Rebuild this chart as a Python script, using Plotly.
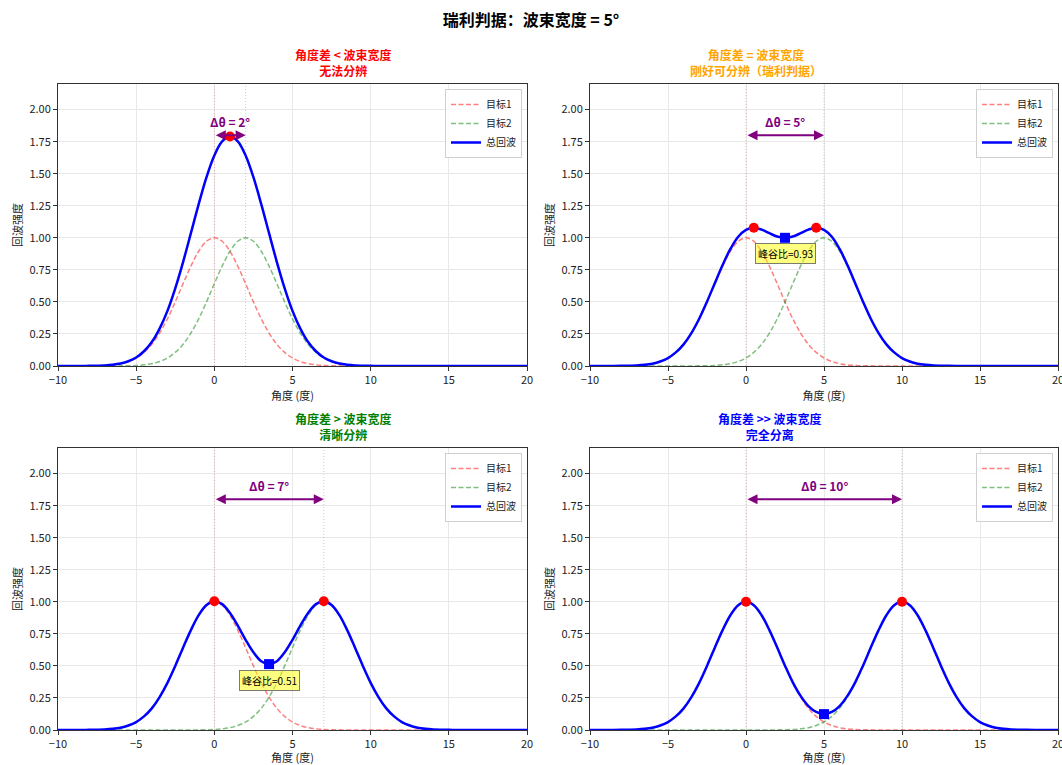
import numpy as np
import plotly.graph_objects as go
from plotly.subplots import make_subplots

# ---------------- data ----------------
ANGLE = np.arange(-10, 20.5, 0.5)  # sampling grid (degrees)

DELTAS = [2, 5, 7, 10]
TITLES = ["角度差 &lt; 波束宽度<br>无法分辨",
          "角度差 = 波束宽度<br>刚好可分辨（瑞利判据）",
          "角度差 &gt; 波束宽度<br>清晰分辨",
          "角度差 &gt;&gt; 波束宽度<br>完全分离"]
TITLE_COLORS = ["red", "orange", "green", "blue"]

TARGET1 = [0, 0, 0.0001, 0.0003, 0.001, 0.002, 0.004, 0.009, 0.018, 0.035, 0.062, 0.106, 0.169, 0.257,
           0.368, 0.5, 0.642, 0.779, 0.895, 0.973, 1.0, 0.973, 0.895, 0.779, 0.642, 0.5, 0.368, 0.257,
           0.169, 0.106, 0.062, 0.035, 0.018, 0.009, 0.004, 0.002, 0.001, 0.0003, 0.0001,
           0, 0, 0, 0, 0, 0, 0, 0, 0, 0, 0, 0, 0, 0, 0, 0, 0, 0, 0, 0, 0, 0]

TARGET2_A = [0, 0, 0, 0, 0, 0,
             0.0001, 0.0003, 0.001, 0.002, 0.004, 0.009, 0.018, 0.035, 0.062, 0.106, 0.169, 0.257,
             0.368, 0.5, 0.642, 0.779, 0.895, 0.973, 1.0, 0.973, 0.895, 0.779, 0.642, 0.5, 0.368, 0.257,
             0.169, 0.106, 0.062, 0.035, 0.018, 0.009, 0.004, 0.002, 0.001, 0.0003, 0.0001,
             0, 0, 0, 0, 0, 0, 0, 0, 0, 0, 0, 0, 0, 0, 0, 0, 0, 0]
TARGET2_B = [0, 0, 0, 0, 0, 0, 0, 0, 0, 0, 0, 0,
             0.0001, 0.0003, 0.001, 0.002, 0.004, 0.009, 0.018, 0.035, 0.062, 0.106, 0.169, 0.257,
             0.368, 0.5, 0.642, 0.779, 0.895, 0.973, 1.0, 0.973, 0.895, 0.779, 0.642, 0.5, 0.368, 0.257,
             0.169, 0.106, 0.062, 0.035, 0.018, 0.009, 0.004, 0.002, 0.001, 0.0003, 0.0001,
             0, 0, 0, 0, 0, 0, 0, 0, 0, 0, 0, 0]
TARGET2_C = [0, 0, 0, 0, 0, 0, 0, 0, 0, 0, 0, 0, 0, 0, 0, 0,
             0.0001, 0.0003, 0.001, 0.002, 0.004, 0.009, 0.018, 0.035, 0.062, 0.106, 0.169, 0.257,
             0.368, 0.5, 0.642, 0.779, 0.895, 0.973, 1.0, 0.973, 0.895, 0.779, 0.642, 0.5, 0.368, 0.257,
             0.169, 0.106, 0.062, 0.035, 0.018, 0.009, 0.004, 0.002, 0.001, 0.0003, 0.0001,
             0, 0, 0, 0, 0, 0, 0, 0]
TARGET2_D = [0, 0, 0, 0, 0, 0, 0, 0, 0, 0, 0, 0, 0, 0, 0, 0, 0, 0, 0, 0, 0, 0,
             0.0001, 0.0003, 0.001, 0.002, 0.004, 0.009, 0.018, 0.035, 0.062, 0.106, 0.169, 0.257,
             0.368, 0.5, 0.642, 0.779, 0.895, 0.973, 1.0, 0.973, 0.895, 0.779, 0.642, 0.5, 0.368, 0.257,
             0.169, 0.106, 0.062, 0.035, 0.018, 0.009, 0.004, 0.002, 0.001, 0.0003, 0.0001,
             0, 0]

TOTAL_A = [0, 0, 0.0001, 0.0003, 0.001, 0.002, 0.0041, 0.0093, 0.019, 0.037, 0.066, 0.115, 0.187, 0.292,
           0.430, 0.606, 0.811, 1.036, 1.263, 1.473, 1.642, 1.752, 1.790, 1.752, 1.642, 1.473, 1.263,
           1.036, 0.811, 0.606, 0.430, 0.292, 0.187, 0.115, 0.066, 0.037, 0.019, 0.0093, 0.0041, 0.002,
           0.001, 0.0003, 0.0001,
           0, 0, 0, 0, 0, 0, 0, 0, 0, 0, 0, 0, 0, 0, 0, 0, 0, 0]
TOTAL_B = [0, 0, 0.0001, 0.0003, 0.001, 0.002, 0.004, 0.009, 0.018, 0.035, 0.062, 0.106, 0.169, 0.257,
           0.369, 0.502, 0.646, 0.788, 0.913, 1.008, 1.062, 1.079, 1.064, 1.036, 1.010, 1.000, 1.010,
           1.036, 1.064, 1.079, 1.062, 1.008, 0.913, 0.788, 0.646, 0.502, 0.369, 0.257, 0.169, 0.106,
           0.062, 0.035, 0.018, 0.009, 0.004, 0.002, 0.001, 0.0003, 0.0001,
           0, 0, 0, 0, 0, 0, 0, 0, 0, 0, 0, 0]
TOTAL_C = [0, 0, 0.0001, 0.0003, 0.001, 0.002, 0.004, 0.009, 0.018, 0.035, 0.062, 0.106, 0.169, 0.257,
           0.368, 0.5, 0.642, 0.779, 0.896, 0.975, 1.004, 0.982, 0.913, 0.814, 0.704, 0.606, 0.537,
           0.514, 0.537, 0.606, 0.704, 0.814, 0.913, 0.982, 1.004, 0.975, 0.896, 0.779, 0.642, 0.5,
           0.368, 0.257, 0.169, 0.106, 0.062, 0.035, 0.018, 0.009, 0.004, 0.002, 0.001, 0.0003, 0.0001,
           0, 0, 0, 0, 0, 0, 0, 0]
TOTAL_D = [0, 0, 0.0001, 0.0003, 0.001, 0.002, 0.004, 0.009, 0.018, 0.035, 0.062, 0.106, 0.169, 0.257,
           0.368, 0.5, 0.642, 0.779, 0.895, 0.973, 1.0, 0.973, 0.895, 0.779, 0.643, 0.502, 0.372, 0.266,
           0.187, 0.141, 0.124, 0.141, 0.187, 0.266, 0.372, 0.502, 0.643, 0.779, 0.895, 0.973, 1.0,
           0.973, 0.895, 0.779, 0.642, 0.5, 0.368, 0.257, 0.169, 0.106, 0.062, 0.035, 0.018, 0.009,
           0.004, 0.002, 0.001, 0.0003, 0.0001, 0, 0]

TARGET2 = [TARGET2_A, TARGET2_B, TARGET2_C, TARGET2_D]
TOTAL = [TOTAL_A, TOTAL_B, TOTAL_C, TOTAL_D]

PEAK_X = [[1.0], [0.5, 4.5], [0.0, 7.0], [0.0, 10.0]]
PEAK_Y = [[1.79], [1.079, 1.079], [1.004, 1.004], [1.0, 1.0]]
VALLEY_X = [None, 2.5, 3.5, 5.0]
VALLEY_Y = [None, 1.0, 0.514, 0.124]
RATIO_TEXT = [None, "峰谷比=0.93", "峰谷比=0.51", "峰谷比=0.13"]

X_TICKS = [-10, -5, 0, 5, 10, 15, 20]
Y_TICKS = [0, 0.25, 0.5, 0.75, 1.0, 1.25, 1.5, 1.75, 2.0]

# ---------------- layout geometry ----------------
W, H = 1062, 765
ML, MR, MT, MB = 50, 2, 60, 30
PW, PH = W - ML - MR, H - MT - MB


def xdom(a, b):
    return [(a - ML) / PW, (b - ML) / PW]


def ydom(top, bottom):
    return [(H - MB - bottom) / PH, (H - MB - top) / PH]


XD = [xdom(58, 527), xdom(590, 1058)]
YD = [ydom(84, 366), ydom(448, 730)]
FONT = "Noto Sans CJK SC, Noto Sans, sans-serif"

fig = make_subplots(rows=2, cols=2)

legend_names = ["legend", "legend2", "legend3", "legend4"]
for k in range(4):
    r, c = k // 2, k % 2
    row, col = r + 1, c + 1
    lg = legend_names[k]
    d = DELTAS[k]

    fig.add_trace(go.Scatter(x=ANGLE, y=TARGET1, mode="lines", name="目标1", legend=lg,
                             line=dict(color="rgba(255,0,0,0.5)", width=1.5, dash="5px,2.5px", shape="spline")),
                  row=row, col=col)
    fig.add_trace(go.Scatter(x=ANGLE, y=TARGET2[k], mode="lines", name="目标2", legend=lg,
                             line=dict(color="rgba(0,128,0,0.5)", width=1.5, dash="5px,2.5px", shape="spline")),
                  row=row, col=col)
    fig.add_trace(go.Scatter(x=ANGLE, y=TOTAL[k], mode="lines", name="总回波", legend=lg,
                             line=dict(color="blue", width=2.5, shape="spline")),
                  row=row, col=col)
    fig.add_trace(go.Scatter(x=PEAK_X[k], y=PEAK_Y[k], mode="markers", showlegend=False,
                             marker=dict(color="red", size=10, symbol="circle")),
                  row=row, col=col)
    if VALLEY_X[k] is not None:
        fig.add_trace(go.Scatter(x=[VALLEY_X[k]], y=[VALLEY_Y[k]], mode="markers", showlegend=False,
                                 marker=dict(color="blue", size=10, symbol="square")),
                      row=row, col=col)

    ax = "" if k == 0 else str(k + 1)
    xref, yref = "x" + ax, "y" + ax

    # vertical dotted lines at target positions
    fig.add_shape(type="line", xref=xref, yref=yref + " domain", x0=0, x1=0, y0=0, y1=1,
                  line=dict(color="rgba(255,0,0,0.28)", width=1, dash="1px,2px"))
    fig.add_shape(type="line", xref=xref, yref=yref + " domain", x0=d, x1=d, y0=0, y1=1,
                  line=dict(color="rgba(0,128,0,0.28)", width=1, dash="1px,2px"))

    # double arrow
    fig.add_annotation(x=d, y=1.8, ax=0, ay=1.8, xref=xref, yref=yref, axref=xref, ayref=yref,
                       text="", showarrow=True, arrowside="end+start", arrowhead=2, arrowsize=1,
                       arrowwidth=2, arrowcolor="purple")
    fig.add_annotation(x=d / 2, y=1.8, xref=xref, yref=yref, text=f"<b>Δθ = {d}°</b>",
                       showarrow=False, yanchor="bottom", yshift=3,
                       font=dict(family=FONT, size=12, color="purple"))

    if RATIO_TEXT[k] is not None:
        fig.add_annotation(x=VALLEY_X[k], y=VALLEY_Y[k] - 0.125, xref=xref, yref=yref,
                           text=RATIO_TEXT[k], showarrow=False,
                           bgcolor="rgba(255,255,0,0.5)", bordercolor="rgba(90,90,90,0.8)",
                           borderwidth=1, borderpad=2,
                           font=dict(family=FONT, size=10, color="black"))

    # subplot title
    fig.add_annotation(x=(XD[c][0] + XD[c][1]) / 2, y=YD[r][1], xref="paper", yref="paper",
                       text=f"<b>{TITLES[k]}</b>", showarrow=False, yanchor="bottom", yshift=3,
                       font=dict(family=FONT, size=12, color=TITLE_COLORS[k]))

    axis_common = dict(showline=True, linecolor="#333", linewidth=1, mirror=True,
                       ticks="outside", ticklen=4, tickcolor="#333", automargin=False,
                       ticklabeloverflow="allow",
                       showgrid=True, gridcolor="#e8e8e8", gridwidth=1, zeroline=False,
                       tickfont=dict(family=FONT, size=11, color="#222"))
    fig.update_xaxes(domain=XD[c], range=[-10, 20], tickvals=X_TICKS,
                     title=dict(text="角度 (度)", font=dict(family=FONT, size=11, color="#222"), standoff=6),
                     row=row, col=col, **axis_common)
    fig.update_yaxes(domain=YD[r], range=[0, 2.2], tickvals=Y_TICKS, tickformat=".2f",
                     title=dict(text="回波强度", font=dict(family=FONT, size=11, color="#222"), standoff=4),
                     row=row, col=col, **axis_common)

    fig.update_layout({lg: dict(x=XD[c][1] - 5 / PW, y=YD[r][1] - 5 / PH, xanchor="right", yanchor="top",
                                bgcolor="rgba(255,255,255,0.85)", bordercolor="#d0d0d0", borderwidth=1,
                                font=dict(family=FONT, size=10, color="#222"), itemwidth=30,
                                tracegroupgap=0)})

fig.update_layout(
    width=W, height=H,
    margin=dict(l=ML, r=MR, t=MT, b=MB, autoexpand=False),
    paper_bgcolor="white", plot_bgcolor="white",
    font=dict(family=FONT),
    title=dict(text="<b>瑞利判据：波束宽度 = 5°</b>", x=0.5, xanchor="center", y=1 - 20 / H,
               yanchor="middle", yref="container", font=dict(family=FONT, size=16, color="black")),
)

fig.write_html("out.html", config={"displayModeBar": False},
               post_script="document.body.style.margin='0';document.body.style.overflow='hidden';")
